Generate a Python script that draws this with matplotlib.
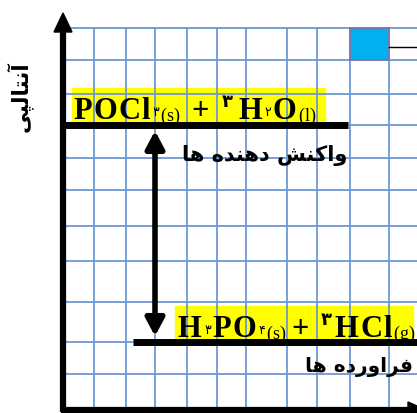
import matplotlib
matplotlib.use('Agg')
import matplotlib.pyplot as plt
from matplotlib.patches import Rectangle, FancyArrowPatch

# grid positions (pixel units of the 417x414 canvas)
grid_x = [94, 126, 155, 187, 217, 246, 287, 317, 350, 389]
grid_y = [29, 61, 95, 159, 191, 227, 262, 303, 375]
# enthalpy levels
reactant_level = 126
product_level = 343
axis_x, axis_y = 63, 411

# (text, fontsize, vertical shift, gap before)
reactant_pieces = [("POCl", 22, 0, 0), ("۳", 9, -3, 1), ("(s)", 13, 2, 1), ("+", 22, 0, 12),
                   ("۳", 13, -12, 11), ("H", 22, 0, 6), ("۲", 9, -3, 1), ("O", 22, 0, 1),
                   ("(l)", 13, 2, 1)]
product_pieces = [("H", 22, 0, 0), ("۳", 9, -3, 1), ("PO", 22, 0, 1), ("۴", 9, -3, 1),
                  ("(s)", 13, 2, 1), ("+", 22, 0, 6), ("۳", 13, -12, 11), ("HCl", 22, 0, 3),
                  ("(g)", 13, 2, 0)]

# Persian labels in visual order with presentation forms
label_reactants = "\uFE8E\uFEEB \uFEE9\uFEAA\uFEE8\uFEEB\uFEA9 \uFEB6\uFEE8\uFEDB\uFE8D\uFEED"
label_products = "\uFE8E\uFEEB \uFEE9\uFEA9\uFEAD\uFEED\uFE8D\uFEAE\uFED3"
label_enthalpy = "\uFEF0\uFB59\uFEDF\uFE8E\uFE98\uFEE7\uFE81"

fig = plt.figure(figsize=(4.17, 4.14), dpi=100)
ax = fig.add_axes([0, 0, 1, 1])
ax.set_xlim(0, 417)
ax.set_ylim(414, 0)
ax.axis('off')

# yellow highlights (under the grid)
ax.add_patch(Rectangle((72, 89), 253, 34, color='#ffff00', zorder=0.5))
ax.add_patch(Rectangle((175, 307), 238, 34, color='#ffff00', zorder=0.5))

gc = '#6d98d2'
for gx in grid_x:
    ax.plot([gx, gx], [29, axis_y], color=gc, lw=1.3, zorder=1)
for gy in grid_y + [reactant_level, product_level]:
    ax.plot([axis_x, 417], [gy, gy], color=gc, lw=1.3, zorder=1)

# axes with arrows
ax.plot([axis_x, axis_x], [axis_y + 2, 30], color='black', lw=4.5, solid_capstyle='butt', zorder=5)
ax.fill([axis_x - 9, axis_x + 9, axis_x], [33, 33, 14], color='black', zorder=5)
ax.plot([axis_x - 2, 410], [axis_y, axis_y], color='black', lw=4.5, solid_capstyle='butt', zorder=5)
ax.fill([408, 408, 426], [axis_y - 8, axis_y + 8, axis_y], color='black', zorder=5)

# energy levels
ax.plot([axis_x, 348], [reactant_level, reactant_level], color='black', lw=5, solid_capstyle='butt', zorder=4)
ax.plot([133, 417], [product_level, product_level], color='black', lw=5, solid_capstyle='butt', zorder=4)

arr = FancyArrowPatch((155, reactant_level + 3), (155, product_level - 3),
                      arrowstyle='<|-|>,head_length=0.75,head_width=0.4',
                      mutation_scale=14, lw=4, color='black', zorder=6)
ax.add_patch(arr)

# blue square legend
ax.add_patch(Rectangle((350, 29), 39, 32, facecolor='#00b0f0', edgecolor='#8a6fa8', lw=1.2, zorder=3))
ax.plot([389, 417], [48, 48], color='black', lw=1, zorder=3)

fig.canvas.draw()
renderer = fig.canvas.get_renderer()


def chem(pieces, x0, base):
    x = x0
    for s, size, dy, gap in pieces:
        x += gap
        big = size > 15
        bold = big or (size > 10 and s == "۳")
        for ch in s:
            t = ax.text(x, base + dy, ch, fontsize=size, fontweight='bold' if bold else 'normal',
                        family=['Liberation Serif', 'DejaVu Sans'], va='baseline', ha='left', zorder=7)
            x += t.get_window_extent(renderer).width + (1.5 if big else 0)


chem(reactant_pieces, 73, 119)
chem(product_pieces, 178, 337)

ax.text(347, 156, label_reactants, fontsize=15, fontweight='bold', family='DejaVu Sans',
        ha='right', va='center', zorder=7)
ax.text(413, 367, label_products, fontsize=14.5, fontweight='bold', family='DejaVu Sans',
        ha='right', va='center', zorder=7)
ax.text(19, 97, label_enthalpy, fontsize=15.5, fontweight='bold', family='DejaVu Sans',
        rotation=90, ha='center', va='center', zorder=7)

fig.savefig('out.png', dpi=100)
